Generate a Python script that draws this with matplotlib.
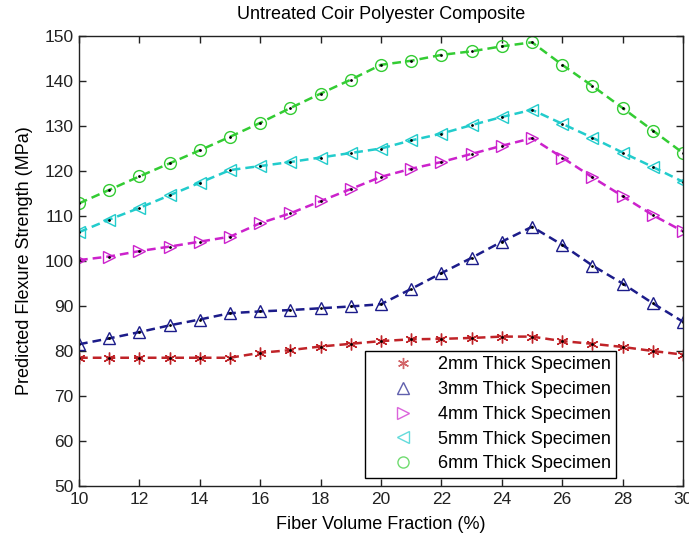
import matplotlib
matplotlib.use("Agg")
import matplotlib.pyplot as plt
from matplotlib.lines import Line2D

plt.rcParams['font.family'] = ['Liberation Sans', 'DejaVu Sans']

# fiber volume fraction (%)
fraction = list(range(10, 31))

# predicted flexure strength (MPa)
mm2 = [78.5, 78.5, 78.5, 78.5, 78.5, 78.5, 79.6, 80.2, 81.0, 81.6, 82.2,
       82.6, 82.7, 82.9, 83.2, 83.2, 82.2, 81.6, 80.9, 80.0, 79.2]
mm3 = [81.5, 82.8, 84.2, 85.7, 87.0, 88.4, 88.8, 89.1, 89.5, 89.9, 90.4,
       93.8, 97.3, 100.7, 104.3, 107.6, 103.6, 99.0, 95.0, 90.6, 86.5]
mm4 = [100.2, 101.0, 102.2, 103.2, 104.3, 105.4, 108.4, 110.6, 113.3, 116.0, 118.7,
       120.5, 122.0, 123.8, 125.6, 127.3, 123.0, 118.6, 114.4, 110.2, 106.6]
mm5 = [106.4, 109.2, 111.8, 114.6, 117.4, 120.2, 121.1, 122.0, 123.0, 124.0, 125.0,
       126.8, 128.3, 130.2, 132.0, 133.6, 130.5, 127.4, 124.1, 120.9, 117.6]
mm6 = [112.8, 115.8, 118.8, 121.7, 124.6, 127.6, 130.7, 134.0, 137.2, 140.3, 143.6,
       144.5, 145.8, 146.6, 147.7, 148.6, 143.6, 138.9, 134.0, 129.0, 124.0]

labels = ['2mm Thick Specimen', '3mm Thick Specimen', '4mm Thick Specimen',
          '5mm Thick Specimen', '6mm Thick Specimen']
series = [mm2, mm3, mm4, mm5, mm6]
colors = ['#c02328', '#1c1c8a', '#cc22cc', '#22cccc', '#33cc33']
markers = [(6, 2, 0), '^', '>', '<', 'o']

fig = plt.figure(figsize=(6.89, 5.37), dpi=100)
ax = fig.add_axes([79/689, 51/537, 604/689, 450/537])

for y, c, m in zip(series, colors, markers):
    ax.plot(fraction, y, color=c, linestyle='--', dashes=(3.5, 2), linewidth=1.8,
            marker=m, markersize=8.5, markerfacecolor='none', markeredgecolor=c,
            markeredgewidth=1.0)
    ax.plot(fraction, y, linestyle='none', marker='.', markersize=2, color='black')

ax.set_xlim(10, 30)
ax.set_ylim(50, 150)
ax.set_xticks(range(10, 31, 2))
ax.set_yticks(range(50, 151, 10))
ax.tick_params(direction='in', top=True, right=True, length=5, width=1,
               labelsize=12.5, pad=4, colors='#222222')
for s in ax.spines.values():
    s.set_linewidth(1.0)
    s.set_color('#222222')

ax.set_title('Untreated Coir Polyester Composite', fontsize=13, pad=12)
ax.set_xlabel('Fiber Volume Fraction (%)', fontsize=13, labelpad=7)
ax.set_ylabel('Predicted Flexure Strength (MPa)', fontsize=13, labelpad=8)

handles = [Line2D([], [], linestyle='none', marker=m, color=c, markersize=8,
                  markerfacecolor='none', alpha=0.7)
           for c, m in zip(colors, markers)]
leg = ax.legend(handles, labels, loc='lower right', bbox_to_anchor=(0.889, 0.018),
                fontsize=13, frameon=True, fancybox=False, edgecolor='black',
                framealpha=1, labelspacing=0.43, handlelength=3.6, handletextpad=0.1,
                borderpad=0.3, borderaxespad=0)
leg.get_frame().set_linewidth(1.0)

fig.savefig('out.png', dpi=100)
